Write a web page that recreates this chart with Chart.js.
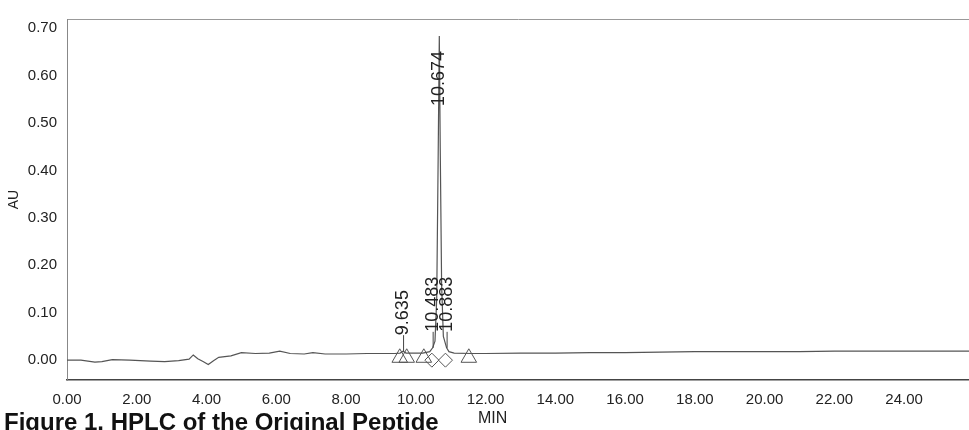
<!DOCTYPE html>
<html>
<head>
<meta charset="utf-8">
<script src="https://cdn.jsdelivr.net/npm/chart.js@4.4.1/dist/chart.umd.min.js"></script>
<style>
  html, body { margin: 0; padding: 0; background: #fff; }
  #wrap { position: relative; width: 969px; height: 430px; overflow: hidden; }
  #caption { position: absolute; left: 4px; top: 410px; font: bold 24px "Liberation Sans", Arial, sans-serif; line-height: 24px; color: #111; white-space: nowrap; }
  #xtitle { position: absolute; left: 478px; top: 410px; font: 16px "Liberation Sans", Arial, sans-serif; line-height: 16px; color: #222; }
</style>
</head>
<body>
<div id="wrap">
  <canvas id="hplc-chart" width="969" height="430"></canvas>
  <div id="xtitle">MIN</div>
  <div id="caption">Figure 1. HPLC of the Original Peptide</div>
</div>
<script>
// chromatogram trace (minutes / AU)
const times = [0.00, 0.40, 0.80, 1.00, 1.30, 1.80, 2.40, 2.80, 3.20, 3.50, 3.62, 3.75, 3.90, 4.05, 4.20, 4.35, 4.70, 5.00, 5.40, 5.80, 6.10, 6.40, 6.80, 7.05, 7.40, 8.00, 8.60, 9.00, 9.40, 9.55, 9.635, 9.72, 10.00, 10.20, 10.40, 10.483, 10.55, 10.60, 10.64, 10.674, 10.70, 10.74, 10.79, 10.883, 10.95, 11.10, 11.60, 12.00, 13.00, 14.00, 15.00, 16.00, 17.00, 18.00, 19.00, 20.00, 21.00, 22.00, 23.00, 24.00, 25.00, 25.86]
const absorbance = [0.000, 0.000, -0.004, -0.003, 0.001, 0.000, -0.002, -0.003, -0.001, 0.002, 0.011, 0.003, -0.003, -0.009, -0.001, 0.006, 0.009, 0.016, 0.014, 0.015, 0.019, 0.014, 0.013, 0.016, 0.013, 0.013, 0.014, 0.014, 0.014, 0.015, 0.019, 0.015, 0.015, 0.015, 0.018, 0.026, 0.040, 0.130, 0.420, 0.683, 0.450, 0.160, 0.050, 0.026, 0.018, 0.015, 0.014, 0.014, 0.015, 0.015, 0.016, 0.016, 0.017, 0.018, 0.018, 0.018, 0.018, 0.019, 0.019, 0.019, 0.019, 0.019]

const peakTimes = [9.635, 10.483, 10.674, 10.883]
const peakLabels = [`9.635`, `10.483`, `10.674`, `10.883`]

// integration start/end marks
const triangleTimes = [9.54, 9.74, 10.23, 11.52]
const triangleValues = [0.005, 0.005, 0.005, 0.005]
const diamondTimes = [10.46, 10.85]
const diamondValues = [0.000, 0.000]

const xTicks = [0, 2, 4, 6, 8, 10, 12, 14, 16, 18, 20, 22, 24]
const xTickLabels = [`0.00`, `2.00`, `4.00`, `6.00`, `8.00`, `10.00`, `12.00`, `14.00`, `16.00`, `18.00`, `20.00`, `22.00`, `24.00`]
const yTicks = [0, 0.1, 0.2, 0.3, 0.4, 0.5, 0.6, 0.7]
const yTickLabels = [`0.00`, `0.10`, `0.20`, `0.30`, `0.40`, `0.50`, `0.60`, `0.70`]

const FONT = `"Liberation Sans", Arial, sans-serif`

const valueAt = (t) => {
    let best = 0
    times.forEach((v, i) => { if (Math.abs(v - t) < Math.abs(times[best] - t)) best = i })
    return absorbance[best]
}

const peakLabelPlugin = {
    id: `peakLabels`,
    afterDatasetsDraw(chart) {
        const { ctx, chartArea, scales: { x, y } } = chart
        ctx.save()
        ctx.font = `18px ${FONT}`
        ctx.fillStyle = `#222`
        ctx.strokeStyle = `#444`
        ctx.lineWidth = 1
        ctx.textBaseline = `middle`
        ctx.textAlign = `left`
        peakTimes.forEach((t, i) => {
            const px = x.getPixelForValue(t)
            const py = y.getPixelForValue(valueAt(t))
            const w = ctx.measureText(peakLabels[i]).width
            let start = py - 16
            if (start - w < chartArea.top) {
                start = chartArea.top + 87
            } else {
                ctx.beginPath()
                ctx.moveTo(px + 0.5, py)
                ctx.lineTo(px + 0.5, start)
                ctx.stroke()
            }
            ctx.save()
            ctx.translate(px, start)
            ctx.rotate(-Math.PI / 2)
            ctx.fillText(peakLabels[i], 0, 0)
            ctx.restore()
        })
        ctx.restore()
    }
}

const ctx = document.getElementById(`hplc-chart`).getContext(`2d`)
const chart = new Chart(ctx, {
    type: `line`,
    data: {
        datasets: [{
            label: `Trace`,
            data: times.map((t, i) => ({ x: t, y: absorbance[i] })),
            borderColor: `#555`,
            borderWidth: 1.2,
            pointRadius: 0,
            tension: 0
        }, {
            type: `scatter`,
            label: `Start/End`,
            data: triangleTimes.map((t, i) => ({ x: t, y: triangleValues[i] })),
            pointStyle: `triangle`,
            pointRadius: 9,
            borderColor: `#555`,
            borderWidth: 1,
            backgroundColor: `rgba(0,0,0,0)`
        }, {
            type: `scatter`,
            label: `Drop`,
            data: diamondTimes.map((t, i) => ({ x: t, y: diamondValues[i] })),
            pointStyle: `rectRot`,
            pointRadius: 7,
            borderColor: `#555`,
            borderWidth: 1,
            backgroundColor: `rgba(0,0,0,0)`
        }]
    },
    options: {
        responsive: false,
        animation: false,
        layout: { padding: 0, autoPadding: false },
        plugins: {
            legend: { display: false },
            tooltip: { enabled: false }
        },
        scales: {
            x: {
                type: `linear`,
                position: `bottom`,
                min: 0,
                max: 25.86,
                afterBuildTicks: (s) => { s.ticks = xTicks.map(v => ({ value: v })) },
                afterFit: (s) => { s.height = 50 },
                grid: { display: false, drawTicks: false },
                border: { display: true, color: `#444`, width: 1.5 },
                ticks: {
                    padding: 11,
                    color: `#222`,
                    font: { family: FONT, size: 15 },
                    maxRotation: 0,
                    callback: (v, i) => xTickLabels[i]
                }
            },
            x2: {
                type: `linear`,
                position: `top`,
                min: 0,
                max: 25.86,
                afterFit: (s) => { s.height = 16 },
                grid: { display: false, drawTicks: false },
                border: { display: true, color: `#999`, width: 1 },
                ticks: { display: false }
            },
            y: {
                min: -0.0418,
                max: 0.719,
                afterBuildTicks: (s) => { s.ticks = yTicks.map(v => ({ value: v })) },
                afterFit: (s) => { s.width = 67 },
                grid: { display: false, drawTicks: false },
                border: { display: true, color: `#888`, width: 1 },
                title: {
                    display: true,
                    text: `AU`,
                    color: `#222`,
                    font: { family: FONT, size: 14 },
                    padding: { top: 6, bottom: 0 }
                },
                ticks: {
                    padding: 10,
                    color: `#222`,
                    font: { family: FONT, size: 15 },
                    callback: (v, i) => yTickLabels[i]
                }
            }
        }
    },
    plugins: [peakLabelPlugin]
})
</script>
</body>
</html>
